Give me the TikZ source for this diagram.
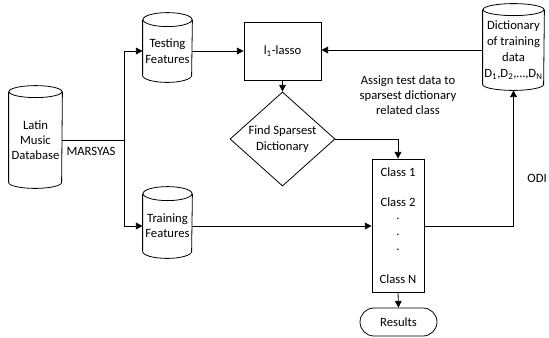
\documentclass[tikz,border=0pt]{standalone}
\usepackage{fontspec}
\setmainfont{Carlito}
\usetikzlibrary{shapes.geometric,shapes.misc,arrows.meta,calc}
\newcommand\cyldraw[3]{%
  \draw (#1.north west) -- ($(#1.south west)+(0,-#3)$)
    arc[start angle=180,end angle=360,x radius=#2*0.75pt,y radius=#3*0.75pt]
    -- (#1.north east);
  \draw (#1.north) ellipse[x radius=#2*0.75pt,y radius=#3*0.75pt];}
\begin{document}
\begin{tikzpicture}[x=0.75pt,y=-0.75pt,
  font=\fontsize{9.5}{11.5}\selectfont,
  line width=0.6pt,
  conn/.style={draw,-{Triangle[length=5pt,width=5pt]}},
  cylbox/.style={inner sep=0pt,align=center},
  box/.style={draw,inner sep=0pt,align=center}]
\useasboundingbox (0,0) rectangle (549,337);

\node[cylbox,minimum width=39.75pt,minimum height=72pt] (ldb) at (35.5,140) {Latin\\Music\\Database};
\node[cylbox,minimum width=36.75pt,minimum height=46.5pt] (test) at (167.5,51) {Testing\\Features};
\node[cylbox,minimum width=36.75pt,minimum height=48pt] (train) at (167.5,226) {Training\\Features};
\node[cylbox,minimum width=45.75pt,minimum height=60pt,font=\fontsize{9.5}{12}\selectfont] (dict) at (513.5,50) {Dictionary\\of training\\data\\D\textsubscript{1},D\textsubscript{2},…,D\textsubscript{N}};
\cyldraw{ldb}{26.5}{6}
\cyldraw{test}{24.5}{7}
\cyldraw{train}{24.5}{7}
\cyldraw{dict}{30.5}{6}

\node[box,minimum width=57.75pt,minimum height=43.5pt] (lasso) at (282.5,51) {l\textsubscript{1}-lasso};
\node[draw,diamond,inner sep=0pt,minimum width=78.75pt,minimum height=58.5pt,align=center] (diam) at (282.5,139) {Find Sparsest\\Dictionary};
\node[box,minimum width=39pt,minimum height=99.75pt] (class) at (398,225.5) {};
\node (c1) at (398,172) {Class 1};
\node (c2) at (398,202) {Class 2};
\node (d1) at (398,219) {.};
\node (d2) at (398,235) {.};
\node (d3) at (398,250) {.};
\node (cn) at (398,279) {Class N};
\node[draw,rounded rectangle,inner sep=0pt,minimum width=57.75pt,minimum height=21pt] (res) at (398.5,322) {Results};

\node[align=center,font=\fontsize{9.5}{11.25}\selectfont] (assign) at (408,95) {Assign test data to\\sparsest dictionary\\related class};
\node[anchor=west,inner sep=0pt] (odi) at (527,178) {ODI};
\node (mars) at (91,151) {MARSYAS};

\coordinate (j) at (124,140);
\draw (ldb.east |- j) -- (j);
\draw[conn] (j) |- (test.west);
\draw[conn] (j) |- (train.west);
\draw[conn] (test.east) -- (lasso.west);
\draw[conn] (dict.west) -- (lasso.east |- dict.west);
\draw[conn] (lasso.south) -- (diam.north);
\draw[conn] (diam.east) -| (class.north);
\draw[conn] (train.east) -- (class.west |- train.east);
\draw[conn] (class.east |- train.east) -| (dict.south);
\draw[conn] (class.south) -- (res.north);
\end{tikzpicture}
\end{document}
